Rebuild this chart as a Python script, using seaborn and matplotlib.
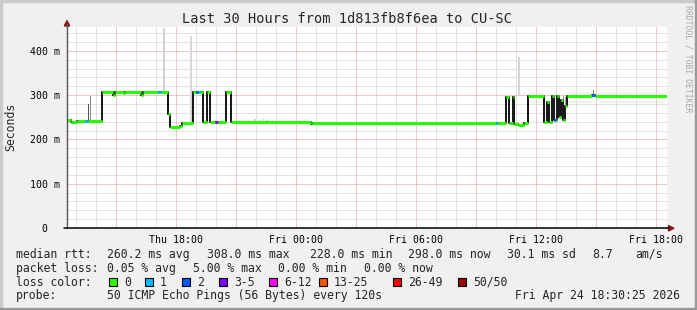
import matplotlib
matplotlib.use("Agg")
import matplotlib.pyplot as plt
import seaborn as sns
import pandas as pd
from matplotlib.patches import Rectangle, Polygon
from matplotlib.lines import Line2D
from matplotlib.ticker import MultipleLocator

# ---------------- data ----------------
title = "Last 30 Hours from 1d813fb8f6ea to CU-SC"
ylabel = "Seconds"
watermark = "RRDTOOL / TOBI OETIKER"

x_start, x_end = 12.565, 42.565          # hours since Thu 00:00
xtick_hours = [18, 24, 30, 36, 42]
xtick_labels = ["Thu 18:00", "Fri 00:00", "Fri 06:00", "Fri 12:00", "Fri 18:00"]
ytick_values = [0, 100, 200, 300, 400]
ytick_labels = ["0  ", "100 m", "200 m", "300 m", "400 m"]
y_max = 454

# median rtt (ms), piecewise constant segments, with loss class index
seg_start = [12.565, 12.765, 13.065, 13.465, 13.615, 14.330, 14.865, 14.965, 15.365, 15.465,
             16.265, 16.365, 17.115, 17.265, 17.590, 17.715, 18.215, 18.315, 18.880, 19.015,
             19.115, 19.215, 19.365, 19.550, 19.715, 19.990, 20.090, 20.515, 20.765, 24.765,
             24.815, 34.015, 34.115, 34.540, 34.690, 34.840, 34.915, 35.115, 35.415, 35.615,
             36.415, 36.565, 36.665, 36.815, 36.915, 37.015, 37.065, 37.165, 37.265, 37.365,
             37.465, 37.565, 38.815, 38.965]
seg_value = [243, 239, 242, 242, 242, 307, 301, 307, 304, 307,
             300, 307, 307, 307, 258, 228, 230, 238, 307, 307,
             307, 307, 239, 307, 239, 239, 239, 307, 239, 234,
             238, 238, 238, 297, 238, 297, 236, 233, 238, 298,
             240, 285, 240, 298, 245, 245, 298, 250, 290, 245,
             275, 298, 301, 298]
seg_loss = [0, 0, 0, 1, 0, 0, 0, 0, 0, 0,
            0, 0, 1, 0, 0, 0, 0, 0, 0, 2,
            1, 0, 0, 0, 0, 3, 0, 0, 0, 0,
            0, 1, 0, 0, 0, 0, 0, 0, 0, 0,
            0, 0, 0, 0, 2, 0, 0, 0, 0, 0,
            0, 0, 2, 0]

# smoke (ping spread) columns
smoke_time = [13.65, 13.72, 17.42, 18.77, 18.87, 21.97, 22.17, 22.37, 22.57,
              35.17, 37.40, 37.50, 38.87]
smoke_lo = [245, 242, 300, 238, 238, 238, 238, 238, 238, 300, 255, 255, 298]
smoke_hi = [280, 298, 452, 434, 262, 246, 245, 246, 244, 387, 298, 296, 312]
smoke_shade = ["#555555", "#8a8a8a", "#d4d4d4", "#d8d8d8", "#c8c8c8", "#cfcfcf",
               "#d6d6d6", "#cfcfcf", "#d6d6d6", "#d8d8d8", "#9a9a9a", "#aaaaaa", "#777777"]
smoke_width = [0.06, 0.06, 0.11, 0.08, 0.06, 0.06, 0.06, 0.06, 0.06, 0.08, 0.06, 0.06, 0.06]

loss_labels = ["0", "1", "2", "3-5", "6-12", "13-25", "26-49", "50/50"]
loss_colors = ["#26ff00", "#00b8ff", "#0059ff", "#7e00ff", "#ff00ff", "#ff5500", "#ff0000", "#a10000"]

row1 = [("median rtt:", 16), ("260.2 ms avg", 107.3), ("308.0 ms max", 207.3),
        ("228.0 ms min", 309.5), ("298.0 ms now", 408.0), ("30.1 ms sd", 507.0),
        ("8.7", 592.3), ("am/s", 635)]
row2 = [("packet loss:", 16), ("0.05 % avg", 107.3), ("5.00 % max", 192.7),
        ("0.00 % min", 278.5), ("0.00 % now", 363.5)]
row3_label = "loss color:"
box_x = [109.3, 145.3, 182.3, 219.3, 269.3, 319.3, 393.3, 458.3]
row4 = [("probe:", 16), ("50 ICMP Echo Pings (56 Bytes) every 120s", 107.3)]
timestamp = "Fri Apr 24 18:30:25 2026"

# ---------------- figure ----------------
W, H = 697, 310
sns.set_theme(style="white")
MONO = ["DejaVu Sans Mono"]
plt.rcParams["font.family"] = MONO

fig = plt.figure(figsize=(W / 100, H / 100), dpi=100, facecolor="#f0f0f0")

def fx(x):
    return x / W

def fy(y):
    return 1 - y / H

ax = fig.add_axes([fx(67), fy(228), 600 / W, (228 - 27) / H])
ax.set_facecolor("white")
ax.set_xlim(x_start, x_end)
ax.set_ylim(0, y_max)

# grid
ax.xaxis.set_major_locator(MultipleLocator(3))
ax.xaxis.set_minor_locator(MultipleLocator(1))
ax.yaxis.set_major_locator(MultipleLocator(100))
ax.yaxis.set_minor_locator(MultipleLocator(20))
ax.grid(which="minor", color="#c8c8c8", ls=(0, (1, 1)), lw=0.72)
ax.grid(which="major", color="#ec8f8f", ls=(0, (1, 1)), lw=0.72)
ax.set_axisbelow(True)

maj = ax.get_xticks()
ax.set_xticklabels([xtick_labels[xtick_hours.index(int(round(t)))] if int(round(t)) in xtick_hours else ""
                    for t in maj])
ax.set_yticks(ytick_values)
ax.set_yticklabels(ytick_labels)
ax.tick_params(axis="x", which="major", length=2.2, width=0.72, color="#d46a6a",
               labelsize=7.1, pad=2.6, labelcolor="black")
ax.tick_params(axis="x", which="minor", length=1.5, width=0.72, color="#aaaaaa")
ax.tick_params(axis="y", which="major", length=2.2, width=0.72, color="#d46a6a",
               labelsize=7.1, pad=2.8, labelcolor="black")
ax.tick_params(axis="y", which="minor", length=1.5, width=0.72, color="#aaaaaa")
for s in ax.spines.values():
    s.set_visible(False)

# smoke
ax.bar(smoke_time, [h - l for h, l in zip(smoke_hi, smoke_lo)], bottom=smoke_lo,
       width=smoke_width, color=smoke_shade, linewidth=0, zorder=2)

# median black step line
line_df = pd.DataFrame({"t": seg_start + [x_end], "v": seg_value + [seg_value[-1]]})
sns.lineplot(data=line_df, x="t", y="v", drawstyle="steps-post", color="#1a1a1a",
             lw=1.45, estimator=None, sort=False, ax=ax, zorder=3)

# coloured median segments by loss
seg_end = seg_start[1:] + [x_end]
ax.hlines(seg_value, seg_start, seg_end, colors=[loss_colors[l] for l in seg_loss],
          lw=2.2, zorder=4)
ax.set_xlabel("")
ax.set_ylabel("")

# axis lines + arrows
fig.add_artist(Line2D([fx(67), fx(67)], [fy(228), fy(24)], color="#555555", lw=1.0))
fig.add_artist(Line2D([fx(64), fx(669)], [fy(228.2), fy(228.2)], color="black", lw=1.1))
fig.add_artist(Polygon([[fx(64.3), fy(26)], [fx(69.7), fy(26)], [fx(67), fy(20.5)]],
                       closed=True, color="#8b1a1a", transform=fig.transFigure))
fig.add_artist(Polygon([[fx(668.5), fy(225.5)], [fx(668.5), fy(231)], [fx(674), fy(228.2)]],
                       closed=True, color="#8b1a1a", transform=fig.transFigure))

# texts
fig.text(fx(347.5), fy(23), title, ha="center", va="baseline", fontsize=9.8)
fig.text(fx(11), fy(127), ylabel, rotation=90, ha="center", va="center", fontsize=8.3)
fig.text(fx(688), fy(59), watermark, rotation=270, ha="center", va="center",
         fontsize=5.9, color="#a8a8a8")

LS = 8.3
for txt, x in row1:
    fig.text(fx(x), fy(257.7), txt, ha="left", va="baseline", fontsize=LS)
for txt, x in row2:
    fig.text(fx(x), fy(271.7), txt, ha="left", va="baseline", fontsize=LS)
fig.text(fx(16), fy(285.7), row3_label, ha="left", va="baseline", fontsize=LS)
for bx, col, lab in zip(box_x, loss_colors, loss_labels):
    fig.add_artist(Rectangle((fx(bx), fy(286)), 7.3 / W, 7.7 / H, facecolor=col,
                             edgecolor="black", lw=0.8, transform=fig.transFigure))
    fig.text(fx(bx + 14.7), fy(285.7), lab, ha="left", va="baseline", fontsize=LS)
for txt, x in row4:
    fig.text(fx(x), fy(299.3), txt, ha="left", va="baseline", fontsize=LS)
fig.text(fx(680), fy(299.3), timestamp, ha="right", va="baseline", fontsize=LS)

# 3D-ish border
fig.add_artist(Rectangle((0, 0), 2 / W, 1, color="#cbcbcb", transform=fig.transFigure))
fig.add_artist(Rectangle((0, 1 - 2 / H), 1, 2 / H, color="#cbcbcb", transform=fig.transFigure))
fig.add_artist(Rectangle((1 - 2 / W, 0), 2 / W, 1, color="#999999", transform=fig.transFigure))
fig.add_artist(Rectangle((0, 0), 1, 2 / H, color="#999999", transform=fig.transFigure))

fig.savefig("out.png", dpi=100, facecolor=fig.get_facecolor())
